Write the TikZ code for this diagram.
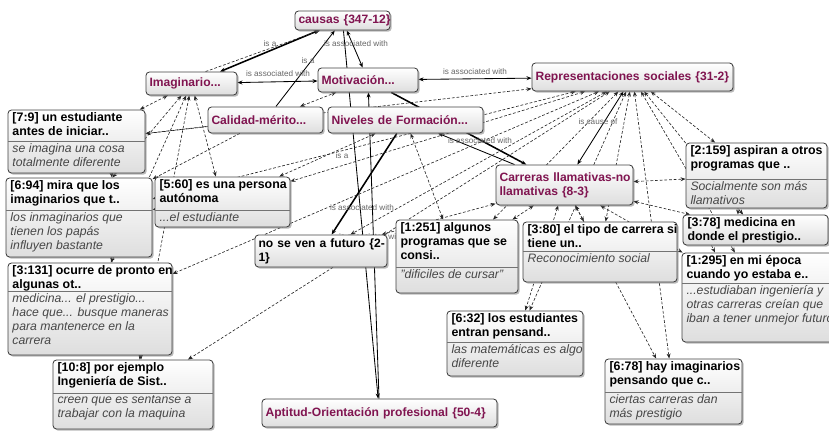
\documentclass[tikz,border=0pt]{standalone}
\usepackage{fontspec}
\setmainfont{Liberation Sans}
\usetikzlibrary{arrows.meta,shadows,backgrounds}
\definecolor{codepurple}{RGB}{128,20,80}
\tikzset{
  boxbase/.style={draw=black!75, line width=0.6pt, rounded corners=2.5pt, top color=white, bottom color=black!13,
    drop shadow={shadow xshift=1.2pt, shadow yshift=-1.2pt, opacity=0.55}, inner sep=0pt},
  codebox/.style={boxbase, text=codepurple, font=\fontsize{8.6}{10}\selectfont\bfseries, align=left, inner xsep=2.5pt},
  qhead/.style={anchor=north west, inner xsep=3pt, inner ysep=1.5pt, font=\fontsize{8.8}{10}\selectfont\bfseries, align=left},
  qbody/.style={qhead, font=\fontsize{8.7}{10}\selectfont\itshape, text=black!72},
  qsep/.style={draw=black!55, line width=0.5pt},
  rel/.style={line width=0.6pt},
  relbold/.style={line width=1.1pt},
  qlink/.style={line width=0.45pt, dash pattern=on 2pt off 1.3pt, draw=black!85},
  lbl/.style={font=\fontsize{5.8}{7}\selectfont, text=black!60, inner sep=0.5pt}
}
\newcommand\codebox[6]{%
  \node[codebox, minimum width={(#4-#2)*0.025cm}, minimum height={(#5-#3)*0.025cm},
    text width={(#4-#2)*0.025cm-5pt}] (#1) at ({(#2+#4)/2},{(#3+#5)/2}) {#6};
}
\newcommand\quotebox[8]{%
  \node[boxbase, minimum width={(#4-#2)*0.025cm}, minimum height={(#5-#3)*0.025cm}] (#1) at ({(#2+#4)/2},{(#3+#5)/2}) {};
  \draw[qsep] (#2,#6) -- (#4,#6);
  \node[qhead] (#1-h) at (#2,#3) {#7};
  \node[qbody] (#1-b) at (#2,#6) {#8};
}
\begin{document}
\begin{tikzpicture}[x=0.025cm, y=-0.025cm, >={Stealth[length=3.6pt,width=2.8pt]}]
\useasboundingbox (0,0) rectangle (829,432);

\codebox{causas}{295}{11}{390}{30}{\mbox{causas \{347-12\}}}
\codebox{imag}{146}{72}{237}{95}{Imaginario...}
\codebox{motiv}{318}{68}{418}{92}{Motivación...}
\codebox{calid}{208}{107}{323}{133}{Calidad-mérito...}
\codebox{nivel}{328}{107}{483}{133}{\mbox{Niveles de Formación...}}
\codebox{repre}{532}{63}{733}{91}{\mbox{Representaciones sociales \{31-2\}}}
\codebox{carre}{496}{165}{633}{205}{\mbox{Carreras llamativas-no}\\llamativas \{8-3\}}
\codebox{aptit}{262}{399}{497}{427}{\mbox{Aptitud-Orientación profesional \{50-4\}}}
\node[codebox, text=black, minimum width=3.3cm, minimum height=0.8cm, text width=3.3cm-5pt] (nosev) at (321,251) {\mbox{no se ven a futuro \{2-}\\1\}};

\quotebox{q79}{8}{110}{145}{173}{141}{[7:9] un estudiante\\antes de iniciar..}{se imagina una cosa\\totalmente diferente}
\quotebox{q694}{6}{178}{152}{257}{210}{[6:94] mira que los\\imaginarios que t..}{los inmaginarios que\\tienen los papás\\influyen bastante}
\quotebox{q560}{155}{177}{290}{227}{210}{[5:60] es una persona\\autónoma}{...el estudiante}
\quotebox{q3131}{8}{263}{172}{355}{291}{[3:131] ocurre de pronto en\\algunas ot..}{medicina... el prestigio...\\hace que... busque maneras\\para mantenerce en la\\carrera}
\quotebox{q108}{53}{360}{213}{429}{393}{[10:8] por ejemplo\\Ingeniería de Sist..}{creen que es sentanse a\\trabajar con la maquina}
\quotebox{q1251}{396}{220}{518}{293}{267}{[1:251] algunos\\programas que se\\consi..}{"dificiles de cursar"}
\quotebox{q380}{523}{222}{677}{282}{251}{[3:80] el tipo de carrera si\\tiene un..}{Reconocimiento social}
\quotebox{q2159}{686}{143}{827}{208}{179}{[2:159] aspiran a otros\\programas que ..}{Socialmente son más\\llamativos}
\node[boxbase, minimum width=3.625cm, minimum height=0.75cm] (q378) at (755.5,230) {};
\node[qhead] (q378-h) at (683,215) {[3:78] medicina en\\donde el prestigio..};
\quotebox{q1295}{682}{253}{840}{342}{283}{[1:295] en mi época\\cuando yo estaba e..}{...estudiaban ingeniería y\\otras carreras creían que\\iban a tener unmejor futuro}
\quotebox{q632}{447}{311}{583}{376}{342}{[6:32] los estudiantes\\entran pensand..}{las matemáticas es algo\\diferente}
\quotebox{q678}{605}{359}{742}{424}{392}{[6:78] hay imaginarios\\pensando que c..}{ciertas carreras dan\\más prestigio}

\begin{pgfonlayer}{background}
\draw[relbold,<->] (imag) -- (causas);
\draw[qlink,->] ([xshift=10pt]imag.north) -- ([xshift=-16pt]causas.south);
\draw[rel,->] (calid) -- (causas);
\draw[rel,<->] (motiv) -- (causas);
\draw[rel,->] (causas) -- (aptit);
\draw[rel,->] (aptit) -- (motiv);
\draw[rel,<->] (imag) -- (motiv);
\draw[rel,<->] (motiv) -- (repre);
\draw[relbold,->] (motiv) -- (carre);
\draw[rel,->] (carre) -- (nivel);
\draw[rel,<->] (repre) -- (carre);
\draw[relbold,->] (nivel) -- (nosev);
\draw[qlink,<->] (calid) -- (motiv);
\foreach \q in {q79,q694,q560,q3131,q108,q1251,q380,q2159,q378,q1295,q632,q678,nosev}
  \draw[qlink,<->] (repre) -- (\q);
\foreach \q in {q2159,q378,q1295,q380,q1251,q632,q678,nosev}
  \draw[qlink,<->] (carre) -- (\q);
\foreach \q in {q79,q694,q560,q3131,q108}
  \draw[qlink,<->] (imag) -- (\q);
\foreach \q in {q79,q694}
  \draw[qlink,->] (calid) -- (\q);
\foreach \q in {q560,q1251}
  \draw[qlink,<->] (nivel) -- (\q);
\draw[qlink,->] (q560) -- (q694);
\draw[qlink,->] ([xshift=0.875cm]q79.south) -- ([xshift=0.825cm]q694.north);
\draw[qlink,->] ([xshift=0.825cm]q694.south) -- ([xshift=0.55cm]q3131.north);
\draw[qlink,->] ([xshift=1.275cm]q3131.south) -- ([xshift=0.2cm]q108.north);
\draw[qlink,->] ([xshift=-0.46cm]q2159.south) -- ([xshift=-0.44cm]q378.north);
\draw[qlink,->] ([xshift=-1.1cm]q378.south) -- ([xshift=-1.15cm]q1295.north);

\node[lbl] (l1) at (270,44) {is a};
\node[lbl] (l2) at (356,44) {is associated with};
\node[lbl] (l3) at (308,61) {is a};
\node[lbl] (l4) at (278,74) {is associated with};
\node[lbl] (l5) at (475,72) {is associated with};
\node[lbl] (l6) at (598,122) {is cause of};
\node[lbl] (l7) at (480,141) {is associated with};
\node[lbl] (l8) at (342,156) {is a};
\node[lbl] (l9) at (362,208) {is associated with};
\node[lbl] (l10) at (371,237) {is associated with};
\end{pgfonlayer}
\end{tikzpicture}
\end{document}
